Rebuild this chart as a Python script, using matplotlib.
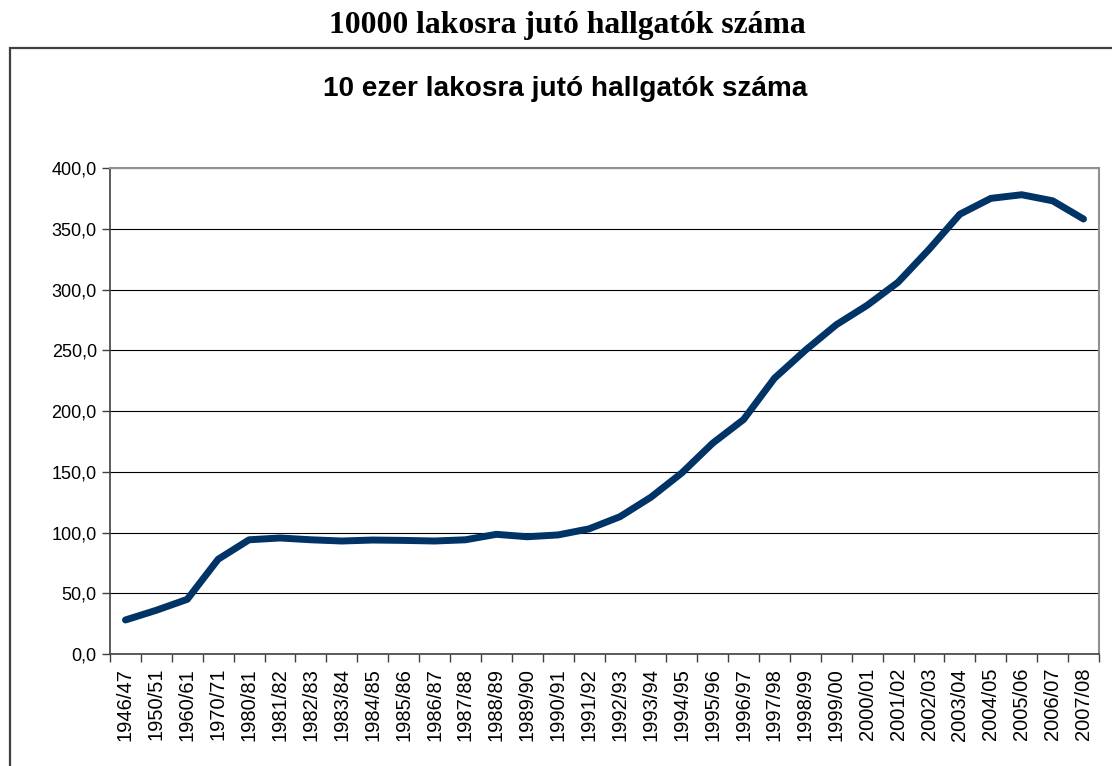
import matplotlib
matplotlib.use("Agg")
import matplotlib.pyplot as plt
from matplotlib.patches import Rectangle
from matplotlib.ticker import FuncFormatter, MultipleLocator, FixedLocator

categories = ["1946/47", "1950/51", "1960/61", "1970/71", "1980/81", "1981/82", "1982/83",
              "1983/84", "1984/85", "1985/86", "1986/87", "1987/88", "1988/89", "1989/90",
              "1990/91", "1991/92", "1992/93", "1993/94", "1994/95", "1995/96", "1996/97",
              "1997/98", "1998/99", "1999/00", "2000/01", "2001/02", "2002/03", "2003/04",
              "2004/05", "2005/06", "2006/07", "2007/08"]
values = [28, 36, 45, 78, 94, 95.5, 94, 93, 93.8, 93.5, 93, 94, 98.5, 96.5, 98, 103,
          113, 129, 149, 173.5, 193, 227, 250, 271, 287, 306, 333, 362, 375, 378, 373, 358]

W, H = 1112, 766
fig = plt.figure(figsize=(W / 100, H / 100), dpi=100)

# outer title
fig.text(567 / W, 1 - 26 / H, "10000 lakosra jutó hallgatók száma", ha="center", va="center",
         fontsize=22.8, fontweight="bold", family="Liberation Serif")

# chart box border
fig.patches.append(Rectangle((10 / W, -0.01), 1.1, 1 - 48 / H + 0.01, transform=fig.transFigure,
                             fill=False, edgecolor="#404040", linewidth=1.6))

fig.text(565 / W, 1 - 89 / H, "10 ezer lakosra jutó hallgatók száma", ha="center", va="center",
         fontsize=20.1, fontweight="bold", family="Liberation Sans")

left, right, top, bottom = 110, 1099, 168, 654
ax = fig.add_axes([left / W, 1 - bottom / H, (right - left) / W, (bottom - top) / H])

x = list(range(len(categories)))
ax.plot(x, values, color="#003366", linewidth=5, solid_capstyle="round", solid_joinstyle="round", zorder=3)

ax.set_xlim(-0.5, len(categories) - 0.5)
ax.set_ylim(0, 400)
ax.yaxis.set_major_locator(MultipleLocator(50))
ax.yaxis.set_major_formatter(FuncFormatter(lambda v, p: f"{v:.1f}".replace(".", ",")))
ax.grid(axis="y", color="black", linewidth=0.8)
ax.set_axisbelow(True)

ax.xaxis.set_major_locator(FixedLocator([i - 0.5 for i in range(len(categories) + 1)]))
ax.xaxis.set_minor_locator(FixedLocator(x))
ax.xaxis.set_minor_formatter(FuncFormatter(lambda v, p: categories[int(round(v))]))
ax.xaxis.set_major_formatter(FuncFormatter(lambda v, p: ""))
ax.tick_params(axis="x", which="minor", length=0, pad=10, labelrotation=90, labelsize=14.5)
ax.tick_params(axis="x", which="major", length=6, width=1, color="#404040", direction="out")
ax.tick_params(axis="y", length=6, width=1, color="#404040", direction="out", labelsize=13)
for lbl in ax.get_yticklabels() + ax.get_xticklabels(minor=True):
    lbl.set_family("Liberation Sans")

for s in ["left", "bottom"]:
    ax.spines[s].set_color("#404040")
    ax.spines[s].set_linewidth(1.2)
for s in ["top", "right"]:
    ax.spines[s].set_color("#909090")
    ax.spines[s].set_linewidth(1.5)

fig.savefig("out.png", dpi=100)
